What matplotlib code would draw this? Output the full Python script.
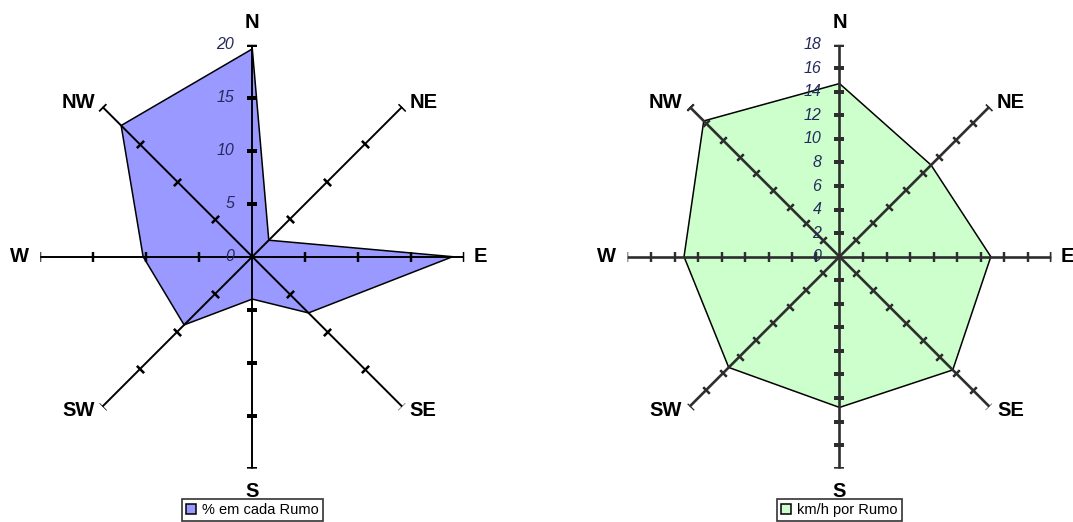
import numpy as np
import matplotlib
matplotlib.use("Agg")
import matplotlib.pyplot as plt

plt.rcParams["font.family"] = ["Liberation Sans", "DejaVu Sans"]

# Wind directions (clockwise from north)
directions = ["N", "NE", "E", "SE", "S", "SW", "W", "NW"]

# Share of observations per direction (%)
pct_per_direction = [19.6, 2.2, 18.9, 7.5, 4.0, 9.1, 10.3, 17.5]
pct_ticks = [0, 5, 10, 15, 20]
pct_label = "% em cada Rumo"

# Mean wind speed per direction (km/h)
kmh_per_direction = [14.7, 11.0, 12.85, 13.6, 12.8, 13.3, 13.2, 16.3]
kmh_ticks = [0, 2, 4, 6, 8, 10, 12, 14, 16, 18]
kmh_label = "km/h por Rumo"

NUM_COLOR = "#252a5c"

# offset (points) and alignment of each compass label at the end of its spoke
compass_style = {
    "N": ((0, 12), "center", "baseline"),
    "NE": ((5.5, 3), "left", "center"),
    "E": ((6.5, 0), "left", "center"),
    "SE": ((5.5, -3), "left", "center"),
    "S": ((0, -9.5), "center", "top"),
    "SW": ((-5.5, -3), "right", "center"),
    "W": ((-8, 0), "right", "center"),
    "NW": ((-5.5, 3), "right", "center"),
}


def draw_rose(ax, values, ticks, face, label, spoke_color, spoke_lw, tick_ms,
              tick_mew):
    rmax = ticks[-1]
    bearings = np.arange(len(directions)) * 45.0
    theta = np.deg2rad(bearings)

    ax.set_theta_zero_location("N")
    ax.set_theta_direction(-1)
    ax.set_ylim(0, rmax)
    ax.set_axis_off()

    closed_t = np.append(theta, theta[0])
    closed_v = np.append(values, values[0])
    ax.fill(closed_t, closed_v, facecolor=face, edgecolor="black",
            linewidth=1.1, zorder=2, label=label)

    for t, b, name in zip(theta, bearings, directions):
        ax.plot([t, t], [0, rmax], color=spoke_color, linewidth=spoke_lw,
                solid_capstyle="butt", zorder=3)
        ax.plot([t] * (len(ticks) - 1), ticks[1:], linestyle="none",
                marker=(2, 2, 90 - b), markersize=tick_ms,
                markeredgewidth=tick_mew, color=spoke_color, zorder=3)
        off, ha, va = compass_style[name]
        ax.annotate(name, xy=(t, rmax), xytext=off, textcoords="offset points",
                    ha=ha, va=va, fontsize=14.5, fontweight="bold",
                    color="black", annotation_clip=False, zorder=5)

    for v in ticks:
        ax.annotate(str(v), xy=(0, v), xytext=(-13, 0),
                    textcoords="offset points", ha="right", va="center",
                    fontsize=11.5, style="italic", color=NUM_COLOR,
                    annotation_clip=False)

    leg = ax.legend(loc="upper center", bbox_to_anchor=(0.5, -0.0708),
                    borderaxespad=0, fontsize=10.5, fancybox=False,
                    framealpha=1, edgecolor="#333333", handlelength=0.7,
                    handleheight=0.7, handletextpad=0.4, borderpad=0.3)
    leg.get_frame().set_linewidth(1.2)


fig = plt.figure(figsize=(10.73, 5.22), dpi=100)
ax_left = fig.add_axes([0.03756, 0.1021, 0.39515, 0.8123], projection="polar")
ax_right = fig.add_axes([0.5848, 0.1021, 0.39515, 0.8123], projection="polar")

draw_rose(ax_left, pct_per_direction, pct_ticks, "#9999ff", pct_label,
          "black", 1.4, 7.0, 1.6)
draw_rose(ax_right, kmh_per_direction, kmh_ticks, "#ccffcc", kmh_label,
          "#2e2e2e", 1.9, 6.5, 1.6)

fig.savefig("out.png", dpi=100)
